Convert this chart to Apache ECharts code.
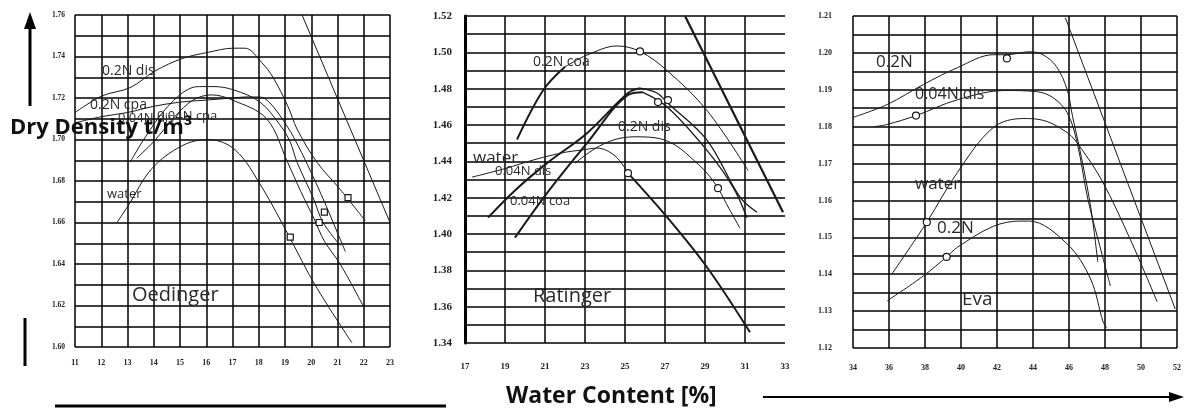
<!DOCTYPE html>
<html><head><meta charset="utf-8">
<script src="https://cdn.jsdelivr.net/npm/echarts@6/dist/echarts.min.js"></script>
<style>html,body{margin:0;padding:0;background:#fff}#c{width:1187px;height:412px}</style>
</head><body><div id="c"></div>
<script>
// ---------- Panel 1: Oedinger ----------
const p1XTicks = [11,12,13,14,15,16,17,18,19,20,21,22,23];
const p1YTicks = [1.60,1.62,1.64,1.66,1.68,1.70,1.72,1.74,1.76];
const p1_dis02_x = [11, 12.03, 13.1, 14.05, 15.08, 16.07, 17.02, 17.48, 18.12, 18.54, 19.11, 19.46, 20.22, 21.1, 22.05];
const p1_dis02_y = [1.713, 1.721, 1.725, 1.733, 1.739, 1.742, 1.744, 1.744, 1.737, 1.730, 1.716, 1.705, 1.689, 1.676, 1.661];
const p1_line_x = [19.65, 23.0];
const p1_line_y = [1.760, 1.660];
const p1_cpa02_x = [11, 12, 13, 14, 15, 16, 17, 17.5, 18, 18.4, 19.1, 19.5, 20, 20.5, 21, 21.3];
const p1_cpa02_y = [1.708, 1.711, 1.713, 1.716, 1.718, 1.719, 1.720, 1.7205, 1.7205, 1.718, 1.706, 1.697, 1.684, 1.670, 1.655, 1.646];
const p1_dis004_x = [13.1, 13.67, 14.54, 15.46, 15.84, 16.26, 17.02, 18.05, 18.81, 19.19, 19.46, 20.07, 20.45, 21.1];
const p1_dis004_y = [1.689, 1.701, 1.716, 1.725, 1.7255, 1.7255, 1.724, 1.718, 1.707, 1.699, 1.689, 1.672, 1.660, 1.649];
const p1_cpa004_x = [13.35, 14.0, 14.8, 15.5, 16.2, 17.0, 18.3, 19.1, 19.6, 20.1, 20.5, 21.1, 21.97];
const p1_cpa004_y = [1.691, 1.699, 1.711, 1.719, 1.7215, 1.719, 1.710, 1.689, 1.675, 1.662, 1.651, 1.640, 1.620];
const p1_water_x = [12.6, 13.02, 13.93, 15.08, 16.07, 17.1, 18.12, 19.19, 20.14, 21.55];
const p1_water_y = [1.660, 1.668, 1.686, 1.697, 1.700, 1.695, 1.677, 1.6525, 1.630, 1.602];
const p1_marks_x = [20.3, 20.5, 21.4, 19.2];
const p1_marks_y = [1.660, 1.665, 1.672, 1.653];

// ---------- Panel 2: Ratinger ----------
const p2XTicks = [17,19,21,23,25,27,29,31,33];
const p2YTicks = [1.34,1.36,1.38,1.40,1.42,1.44,1.46,1.48,1.50,1.52];
const p2_coa02_x = [19.6, 20.9, 22.0, 23.1, 24.6, 25.75, 27.1, 29.1, 31.15];
const p2_coa02_y = [1.452, 1.479, 1.492, 1.4985, 1.5035, 1.5005, 1.490, 1.468, 1.435];
const p2_line_x = [28.0, 32.9];
const p2_line_y = [1.520, 1.412];
const p2_dis004_x = [18.15, 19.5, 21.1, 23.1, 25.15, 25.75, 26.6, 27.15, 29.1, 30.75, 31.6];
const p2_dis004_y = [1.409, 1.424, 1.439, 1.4555, 1.4776, 1.4803, 1.4776, 1.472, 1.4517, 1.4203, 1.412];
const p2_coa004_x = [19.5, 21.1, 23.1, 25.15, 25.9, 27.1, 29.1, 30.4, 31.1];
const p2_coa004_y = [1.398, 1.4225, 1.450, 1.4765, 1.478, 1.470, 1.446, 1.4258, 1.409];
const p2_dis02_x = [22.5, 23.5, 24.5, 25.5, 26.5, 27.5, 28.5, 29.1, 29.65, 30.2, 30.75];
const p2_dis02_y = [1.439, 1.447, 1.452, 1.4535, 1.453, 1.449, 1.440, 1.4335, 1.4252, 1.414, 1.4032];
const p2_water_x = [17.35, 19.0, 20.5, 22.0, 22.85, 23.6, 24.5, 25.15, 27.1, 29.1, 31.25];
const p2_water_y = [1.4313, 1.436, 1.441, 1.445, 1.4462, 1.4473, 1.443, 1.4335, 1.4093, 1.3817, 1.3459];
const p2_marks_x = [25.75, 26.65, 27.15, 29.65, 25.15];
const p2_marks_y = [1.5005, 1.4726, 1.4737, 1.4252, 1.4335];

// ---------- Panel 3: Eva ----------
const p3XTicks = [34,36,38,40,42,44,46,48,50,52];
const p3YTicks = [1.12,1.13,1.14,1.15,1.16,1.17,1.18,1.19,1.20,1.21];
const p3_02top_x = [34, 35.9, 37.9, 39.8, 41.8, 42.55, 43.8, 44.55, 45.3, 45.9, 46.2, 46.6, 47.2, 47.6];
const p3_02top_y = [1.1825, 1.186, 1.1914, 1.196, 1.1995, 1.1995, 1.2003, 1.1995, 1.1963, 1.19, 1.1827, 1.1738, 1.1584, 1.1433];
const p3_line_x = [45.8, 51.9];
const p3_line_y = [1.2095, 1.1306];
const p3_dis004_x = [35.2, 35.9, 37.5, 39.8, 42.45, 44.2, 45.1, 45.9, 46.45, 47.05, 47.8, 48.3];
const p3_dis004_y = [1.18, 1.1806, 1.183, 1.1873, 1.1898, 1.1895, 1.1879, 1.1838, 1.1757, 1.1603, 1.146, 1.1368];
const p3_water_x = [36.15, 38.1, 39.8, 41.8, 43.45, 44.4, 45.9, 46.6, 47.85, 49.4, 50.9];
const p3_water_y = [1.14, 1.1541, 1.1676, 1.1798, 1.1822, 1.1819, 1.1784, 1.1746, 1.1652, 1.1495, 1.1325];
const p3_02bot_x = [35.9, 37.9, 39.2, 39.8, 41.8, 43.3, 43.8, 45.9, 47.2, 47.9, 48.1];
const p3_02bot_y = [1.1328, 1.1395, 1.1447, 1.1473, 1.153, 1.1544, 1.1544, 1.1482, 1.1387, 1.127, 1.1255];
const p3_marks_x = [42.55, 37.5, 38.1, 39.2];
const p3_marks_y = [1.1985, 1.183, 1.1541, 1.1447];

const zip = (xs, ys) => xs.map((x, i) => [x, ys[i]]);
const C = '#1a1a1a';
function curve(xs, ys, g, w, smooth) {
  return {type:'line', xAxisIndex:g, yAxisIndex:g, data:zip(xs, ys), smooth: smooth === undefined ? 0.35 : smooth,
    showSymbol:false, symbol:'none', lineStyle:{color:C, width:w}, z:3, silent:true};
}
function marks(xs, ys, g, sym) {
  return {type:'scatter', xAxisIndex:g, yAxisIndex:g, data:zip(xs, ys), symbol:sym, symbolSize:sym==='rect'?6:7,
    itemStyle:{color:'#fff', borderColor:C, borderWidth:1.2, opacity:1}, z:4, silent:true};
}
const gridLine = {show:true, lineStyle:{color:'#000', width:1.5}};

function xAx(g, ticks, interval, fontSize, margin, family, showMax) {
  return {type:'value', gridIndex:g, min:ticks[0], max:ticks[ticks.length-1], interval:interval,
    axisLine:{show:false}, axisTick:{show:false},
    axisLabel:{show:true, fontSize:fontSize, fontFamily:family, fontWeight:'bold', color:'#222', margin:margin,
      customValues: ticks, formatter: v => String(Math.round(v))},
    splitLine:Object.assign({showMaxLine: showMax}, gridLine)};
}
function yAx(g, ticks, interval, fontSize, margin, family, axisW) {
  return {type:'value', gridIndex:g, min:ticks[0], max:ticks[ticks.length-1], interval:interval,
    axisLine:{show:axisW>0, lineStyle:{color:'#000', width:axisW}}, axisTick:{show:false},
    minorTick:{show:false, splitNumber:2}, minorSplitLine:{show:true, lineStyle:{color:'#000', width:1.5}},
    axisLabel:{show:true, fontSize:fontSize, fontFamily:family, fontWeight:'bold', color:'#222', margin:margin,
      formatter: v => v.toFixed(2)},
    splitLine:gridLine};
}

const chart = echarts.init(document.getElementById('c'), null, {renderer:'canvas'});
const lblFont = '"Open Sans", sans-serif';
function txt(x, y, s, size) {
  return {type:'text', x:x, y:y, z:50, style:{text:s, font: size + 'px ' + lblFont, fill:'#2a2a2a'}};
}
chart.setOption({
  animation:false,
  backgroundColor:'#fff',
  grid:[
    {left:75, top:15, width:315, height:332},
    {left:465, top:16, width:320, height:327},
    {left:853, top:16, width:324, height:332}
  ],
  xAxis:[
    xAx(0, p1XTicks, 1, 8, 12, 'Liberation Serif', true),
    xAx(1, p2XTicks, 2, 9, 19, 'Liberation Serif', false),
    xAx(2, p3XTicks, 2, 8, 16, 'Liberation Serif', true)
  ],
  yAxis:[
    yAx(0, p1YTicks, 0.02, 7.5, 10, 'Liberation Serif', 0),
    yAx(1, p2YTicks, 0.02, 11, 13, 'Liberation Serif', 3),
    yAx(2, p3YTicks, 0.01, 8, 21, 'Liberation Serif', 0)
  ],
  series:[
    curve(p1_dis02_x, p1_dis02_y, 0, 1),
    curve(p1_line_x, p1_line_y, 0, 1, false),
    curve(p1_cpa02_x, p1_cpa02_y, 0, 1),
    curve(p1_dis004_x, p1_dis004_y, 0, 1),
    curve(p1_cpa004_x, p1_cpa004_y, 0, 1),
    curve(p1_water_x, p1_water_y, 0, 1),
    marks(p1_marks_x, p1_marks_y, 0, 'rect'),

    curve(p2_coa02_x.slice(0,3), p2_coa02_y.slice(0,3), 1, 2),
    curve(p2_coa02_x.slice(2), p2_coa02_y.slice(2), 1, 1),
    curve(p2_line_x, p2_line_y, 1, 2.2, false),
    curve(p2_dis004_x.slice(0,6), p2_dis004_y.slice(0,6), 1, 2),
    curve(p2_dis004_x.slice(5), p2_dis004_y.slice(5), 1, 1.3),
    curve(p2_coa004_x.slice(0,5), p2_coa004_y.slice(0,5), 1, 2),
    curve(p2_coa004_x.slice(4), p2_coa004_y.slice(4), 1, 1.3),
    curve(p2_dis02_x, p2_dis02_y, 1, 1),
    curve(p2_water_x.slice(0,8), p2_water_y.slice(0,8), 1, 1),
    curve(p2_water_x.slice(7), p2_water_y.slice(7), 1, 2),
    marks(p2_marks_x, p2_marks_y, 1, 'circle'),

    curve(p3_02top_x, p3_02top_y, 2, 1),
    curve(p3_line_x, p3_line_y, 2, 1, false),
    curve(p3_dis004_x, p3_dis004_y, 2, 1),
    curve(p3_water_x, p3_water_y, 2, 1),
    curve(p3_02bot_x, p3_02bot_y, 2, 1),
    marks(p3_marks_x, p3_marks_y, 2, 'circle')
  ],
  graphic:[
    txt(102, 64, '0.2N dis', 14),
    txt(90, 98, '0.2N cpa', 14),
    txt(118, 112, '0.04N dis', 13),
    txt(157, 110, '0.04N cpa', 13),
    txt(107, 188, 'water', 13),
    txt(132, 285, 'Oedinger', 20),
    txt(533, 55, '0.2N coa', 14),
    txt(618, 120, '0.2N dis', 14),
    txt(473, 150, 'water', 17),
    txt(495, 165, '0.04N dis', 13),
    txt(510, 195, '0.04N coa', 13),
    txt(533, 286, 'Ratinger', 20),
    txt(876, 54, '0.2N', 17),
    txt(915, 86, '0.04N dis', 16),
    txt(915, 176, 'water', 17),
    txt(937, 220, '0.2N', 17),
    txt(962, 290, 'Eva', 19),
    {type:'text', x:10, y:117, z:60, style:{text:'Dry Density t/m³', font:'bold 22px "Open Sans", sans-serif', fill:'#111'}},
    {type:'text', x:506, y:385, z:60, style:{text:'Water Content [%]', font:'bold 23px "Open Sans", sans-serif', fill:'#111'}},
    {type:'line', z:60, shape:{x1:30, y1:106, x2:30, y2:26}, style:{stroke:'#000', lineWidth:3}},
    {type:'polygon', z:60, shape:{points:[[24,29],[36,29],[30,12]]}, style:{fill:'#000'}},
    {type:'line', z:60, shape:{x1:25, y1:318, x2:25, y2:366}, style:{stroke:'#000', lineWidth:3}},
    {type:'line', z:60, shape:{x1:55, y1:406, x2:446, y2:406}, style:{stroke:'#000', lineWidth:3}},
    {type:'line', z:60, shape:{x1:763, y1:397, x2:1172, y2:397}, style:{stroke:'#000', lineWidth:2}},
    {type:'polygon', z:60, shape:{points:[[1169,392],[1169,402],[1184,397]]}, style:{fill:'#000'}}
  ]
});
</script></body></html>
